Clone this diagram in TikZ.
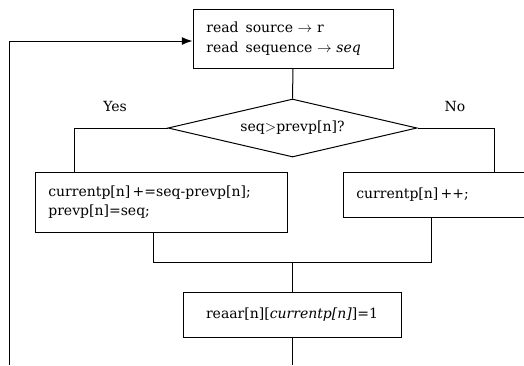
\documentclass[tikz,border=0pt]{standalone}
\usepackage{fontspec}
\setmainfont{DejaVu Serif}
\usetikzlibrary{shapes.geometric,arrows.meta}

\tikzset{every picture/.style={line width=0.75pt}}
\tikzset{
  stepbox/.style={draw, rectangle, inner xsep=10pt, inner ysep=0pt, align=left, font=\fontsize{10.5}{14.5}\selectfont},
  testbox/.style={draw, diamond, aspect=4.3, inner sep=0pt, font=\fontsize{10.5}{14}\selectfont},
  tag/.style={inner sep=0.75pt, font=\fontsize{10.5}{14}\selectfont}
}

\begin{document}
\begin{tikzpicture}[x=0.75pt,y=0.75pt,yscale=-1,xscale=1]
\useasboundingbox (0,0) rectangle (524,365);
\clip (0,0) rectangle (524,365);

%Shape: Rectangle [id:src] 
\node [stepbox, minimum width=150pt, minimum height=44.25pt, text width=130pt] (src) at (293,38.5) {read\enspace source $\rightarrow$ r\\read\enspace sequence $\rightarrow$ \textit{seq}};
%Shape: Diamond [id:cmp] 
\node [testbox, minimum width=186.75pt, minimum height=43.5pt] (cmp) at (292.5,128) {seq$>$prevp[n]?};
%Shape: Rectangle [id:upd] 
\node [stepbox, minimum width=189pt, minimum height=45pt, text width=169pt] (upd) at (161,202) {currentp[n]\,+=seq-prevp[n];\\prevp[n]=seq;};
%Shape: Rectangle [id:inc] 
\node [stepbox, minimum width=151.5pt, minimum height=33.75pt, text width=131.5pt] (inc) at (444,194.5) {currentp[n]\,++;};
%Shape: Rectangle [id:mark] 
\node [stepbox, align=center, minimum width=163.5pt, minimum height=33.75pt] (mark) at (292,314.5) {reaar[n][\textit{currentp[n]}]=1};

% Points
\coordinate (yes) at (74,128);
\coordinate (no) at (494,128);
\coordinate (joinL) at (153,262);
\coordinate (joinR) at (431,262);
\coordinate (joinM) at (292,262);
\coordinate (out) at (292,365);
\coordinate (loop) at (9,365);
\coordinate (back) at (9,41);

%Straight Lines 
\draw (src.south) -- (cmp.north);
\draw (cmp.west) -- (yes) -- (yes |- upd.north);
\draw (cmp.east) -- (no) -- (no |- inc.north);
\draw (joinL |- upd.south) -- (joinL) -- (joinR) -- (joinR |- inc.south);
\draw (joinM) -- (mark.north);
\draw (mark.south) -- (out);
\draw [-{Latex[length=8pt,width=6pt]}] (loop) -- (back) -- (back -| src.west);

% Text Node
\node [tag] (ylab) at (115,106) {Yes};
% Text Node
\node [tag] (nlab) at (455,106) {No};

\end{tikzpicture}
\end{document}
